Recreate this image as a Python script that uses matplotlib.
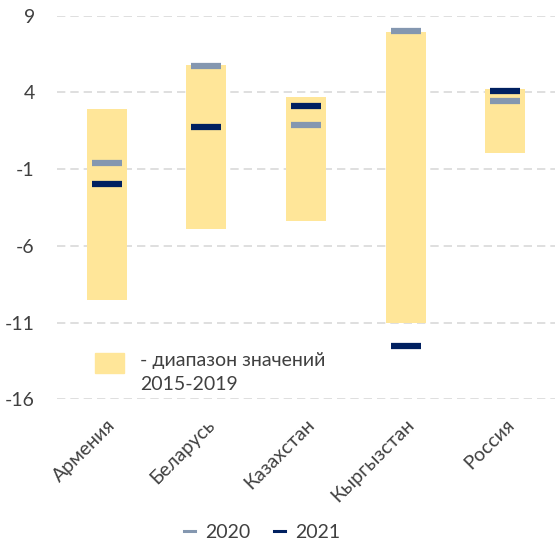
import numpy as np
import matplotlib
matplotlib.use('Agg')
import matplotlib.pyplot as plt
from matplotlib.lines import Line2D
from matplotlib.patches import Rectangle

# Данные
countries = ['Армения', 'Беларусь', 'Казахстан', 'Кыргызстан', 'Россия']
range_low = [-9.5, -4.9, -4.4, -11.0, 0.05]
range_high = [2.95, 5.8, 3.7, 7.95, 4.25]
values_2020 = [-0.6, 5.75, 1.9, 8.0, 3.45]
values_2021 = [-2.0, 1.75, 3.1, -12.5, 4.1]
yticks = [-16, -11, -6, -1, 4, 9]

COLORS = {
    'range': '#ffe699',
    '2020': '#8497b0',
    '2021': '#002060',
    'text': '#404040',
    'grid': '#d9d9d9',
}

W, H = 555, 547
plt.rcParams['font.family'] = ['Lato', 'DejaVu Sans']

fig = plt.figure(figsize=(W / 100, H / 100), dpi=100)
ax = fig.add_axes([57 / W, 1 - 399.3 / H, 498 / W, (399.3 - 15.7) / H])

x = np.arange(len(countries))
low = np.array(range_low)
high = np.array(range_high)

# Диапазон 2015-2019
ax.bar(x, high - low, bottom=low, width=0.4, color=COLORS['range'], zorder=2)

# Значения 2020 и 2021
ax.hlines(values_2020, x - 0.15, x + 0.15, color=COLORS['2020'], linewidth=4.5, zorder=3)
ax.hlines(values_2021, x - 0.15, x + 0.15, color=COLORS['2021'], linewidth=4.5, zorder=3)

ax.set_xlim(-0.5, len(countries) - 0.5)
ax.set_ylim(-16, 9)
ax.set_yticks(yticks)
ax.set_yticklabels([str(t) for t in yticks])
ax.yaxis.grid(True, color=COLORS['grid'], linestyle=(0, (5, 3)), linewidth=1.2, zorder=0)
ax.set_axisbelow(True)

ax.set_xticks(x)
ax.set_xticklabels(countries, rotation=45, ha='right', rotation_mode='anchor')
ax.tick_params(axis='both', length=0, labelsize=14, colors=COLORS['text'])
ax.tick_params(axis='y', pad=16)
ax.tick_params(axis='x', pad=12)

for s in ax.spines.values():
    s.set_visible(False)

# Подпись диапазона внутри графика
fig.patches.append(Rectangle((95 / W, 1 - 373 / H), 29 / W, 20 / H,
                             transform=fig.transFigure, color=COLORS['range']))
fig.text(140 / W, 1 - 352 / H, '- диапазон значений\n2015-2019', ha='left', va='top',
         fontsize=14, color=COLORS['text'], linespacing=1.5)

# Легенда снизу
handles = [Line2D([], [], color=COLORS['2020'], linewidth=2.2),
           Line2D([], [], color=COLORS['2021'], linewidth=2.2)]
fig.legend(handles=handles, labels=['2020', '2021'], loc='center',
           bbox_to_anchor=(262 / W, 0.027), ncol=2, frameon=False, fontsize=14,
           labelcolor=COLORS['text'], handlelength=0.6, handletextpad=0.5, columnspacing=1.2)

fig.savefig('out.png', dpi=100, facecolor='white')
